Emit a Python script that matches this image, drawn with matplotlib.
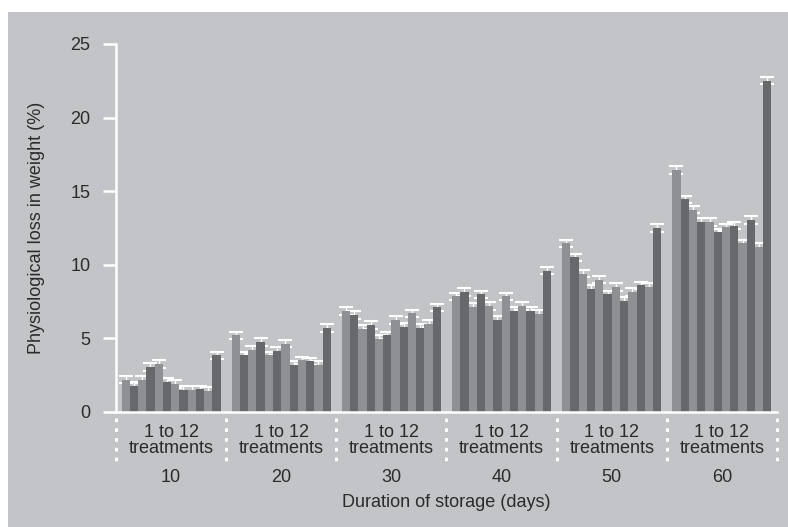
import matplotlib.pyplot as plt
import matplotlib.patches as patches
import matplotlib.transforms as mtransforms
import numpy as np

plt.rcParams['font.family'] = ['Liberation Sans', 'DejaVu Sans']

# weight loss (%) for the 12 treatments at each storage duration
days = [10, 20, 30, 40, 50, 60]
loss_10 = [2.2, 1.8, 2.2, 3.05, 3.25, 2.05, 1.9, 1.5, 1.5, 1.55, 1.45, 3.85]
loss_20 = [5.2, 3.85, 4.2, 4.75, 3.85, 4.15, 4.65, 3.2, 3.5, 3.45, 3.2, 5.7]
loss_30 = [6.85, 6.6, 5.65, 5.9, 4.95, 5.2, 6.25, 5.8, 6.7, 5.7, 6.0, 7.1]
loss_40 = [7.85, 8.15, 7.15, 8.0, 7.2, 6.25, 7.85, 6.85, 7.2, 6.85, 6.65, 9.6]
loss_50 = [11.45, 10.5, 9.4, 8.35, 9.0, 8.0, 8.5, 7.55, 8.15, 8.6, 8.5, 12.5]
loss_60 = [16.45, 14.45, 13.75, 12.9, 12.9, 12.2, 12.55, 12.65, 11.45, 13.05, 11.2, 22.5]
err = [0.25] * 12
all_loss = [loss_10, loss_20, loss_30, loss_40, loss_50, loss_60]
yticks = [0, 5, 10, 15, 20, 25]

bg = '#c3c4c8'
light = '#8f9094'
dark = '#67686c'
txt = '#2b2b2b'
fs = 13

fig = plt.figure(figsize=(7.88, 5.27), dpi=100)
fig.patch.set_facecolor('white')
fig.patches.append(patches.Rectangle((8/788, 0), 1, 1 - 12/527, transform=fig.transFigure,
                                     facecolor=bg, edgecolor='none', zorder=-10))

ax = fig.add_axes([116/788, 1 - 412/527, 661/788, 368/527])
ax.set_facecolor('none')

pitch = 13.333
nb = 12
cols = [light if j % 2 == 0 else dark for j in range(nb)]
for g, vals in enumerate(all_loss):
    x = g * pitch + np.arange(nb)
    # bars drawn over the error bars so only the upper half shows
    ax.bar(x, vals, width=1.0, align='edge', color=cols, edgecolor='none', zorder=3)
    ax.errorbar(x + 0.5, vals, yerr=err, fmt='none', ecolor='white',
                elinewidth=1.0, capsize=5, capthick=1.5, zorder=2)

ax.set_xlim(-0.667, len(days) * pitch - 0.667)
ax.set_ylim(0, 25)
ax.set_yticks(yticks)
ax.set_xticks([])

for s in ['top', 'right']:
    ax.spines[s].set_visible(False)
for s in ['left', 'bottom']:
    ax.spines[s].set_color('white')
    ax.spines[s].set_linewidth(1.8)
    ax.spines[s].set_zorder(4)
ax.tick_params(axis='y', direction='out', length=9.5, width=1.8, color='white',
               labelcolor=txt, labelsize=fs, pad=9)

# group separators and labels below the axis
trans = mtransforms.blended_transform_factory(ax.transData, ax.transAxes)
for g in range(len(days) + 1):
    xs = g * pitch - 0.667
    ax.plot([xs, xs], [-0.016, -0.145], transform=trans, color='white', lw=2.2,
            linestyle=(0, (1.2, 2.0)), clip_on=False)
for g, d in enumerate(days):
    xc = g * pitch + 6
    ax.text(xc, -0.056, '1 to 12', transform=trans, ha='center', va='center',
            fontsize=fs, color=txt)
    ax.text(xc, -0.100, 'treatments', transform=trans, ha='center', va='center',
            fontsize=fs, color=txt)
    ax.text(xc, -0.177, str(d), transform=trans, ha='center', va='center',
            fontsize=fs, color=txt)

ax.text(0.5, -0.247, 'Duration of storage (days)', transform=ax.transAxes,
        ha='center', va='center', fontsize=fs, color=txt)
fig.text(37/788, 1 - 228/527, 'Physiological loss in weight (%)', rotation=90,
         ha='center', va='center', fontsize=fs, color=txt)

fig.savefig('out.png', dpi=100, facecolor=fig.get_facecolor())
